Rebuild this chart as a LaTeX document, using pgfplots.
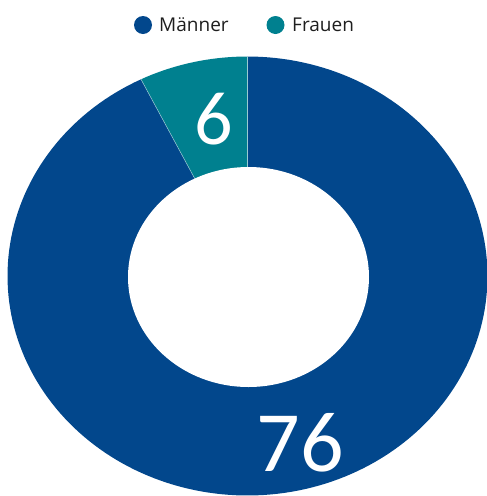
\documentclass[border=0pt]{standalone}
\usepackage{pgfplots}
\pgfplotsset{compat=1.18}
\usepackage{fontspec}
\setmainfont{Open Sans}
\newfontfamily\numfont{Carlito}
\definecolor{mblue}{RGB}{2,71,140}
\definecolor{fteal}{RGB}{0,128,143}
\definecolor{legtxt}{RGB}{30,30,30}
\begin{document}
\begin{tikzpicture}
% data
\def\vMaenner{76}
\def\vFrauen{6}
\pgfmathsetmacro{\total}{\vMaenner+\vFrauen}
\pgfmathsetmacro{\aF}{90+360*\vFrauen/\total}
\def\cx{247.5}\def\cy{276}\def\rx{240}\def\ry{219.5}
\begin{axis}[
  width=487pt, height=496pt, scale only axis,
  xmin=0, xmax=487, ymin=0, ymax=496, y dir=reverse,
  hide axis, clip=false]
% Frauen slice
\fill[fteal] (\cx,\cy) -- plot[domain=90:\aF, samples=40, variable=\t]
  ({\cx+\rx*cos(\t)},{\cy-\ry*sin(\t)}) -- cycle;
% Maenner slice
\fill[mblue] (\cx,\cy) -- plot[domain=\aF:450, samples=200, variable=\t]
  ({\cx+\rx*cos(\t)},{\cy-\ry*sin(\t)}) -- cycle;
% separators
\draw[white!60!fteal, line width=0.5pt] (\cx,\cy) -- ({\cx+\rx*cos(90)},{\cy-\ry*sin(90)});
\draw[white!60!fteal, line width=0.5pt] (\cx,\cy) -- ({\cx+\rx*cos(\aF)},{\cy-\ry*sin(\aF)});
% hole
\fill[white] (248.5,277) ellipse [x radius=120.5, y radius=110];
% labels
\node[text=white, font=\numfont\fontsize{76}{76}\selectfont, inner sep=0pt] at (213.5,119) {\vFrauen};
\node[text=white, font=\numfont\fontsize{86}{86}\selectfont, inner sep=0pt] at (300,443) {\vMaenner};
% legend
\fill[mblue] (143,25) circle [radius=9];
\node[anchor=west, text=legtxt, font=\fontsize{19}{19}\selectfont, inner sep=0pt] at (159,25) {Männer};
\fill[fteal] (275.5,25) circle [radius=9];
\node[anchor=west, text=legtxt, font=\fontsize{19}{19}\selectfont, inner sep=0pt] at (292,25) {Frauen};
\end{axis}
\pgfresetboundingbox
\path (current axis.south west) rectangle (current axis.north east);
\end{tikzpicture}
\end{document}
